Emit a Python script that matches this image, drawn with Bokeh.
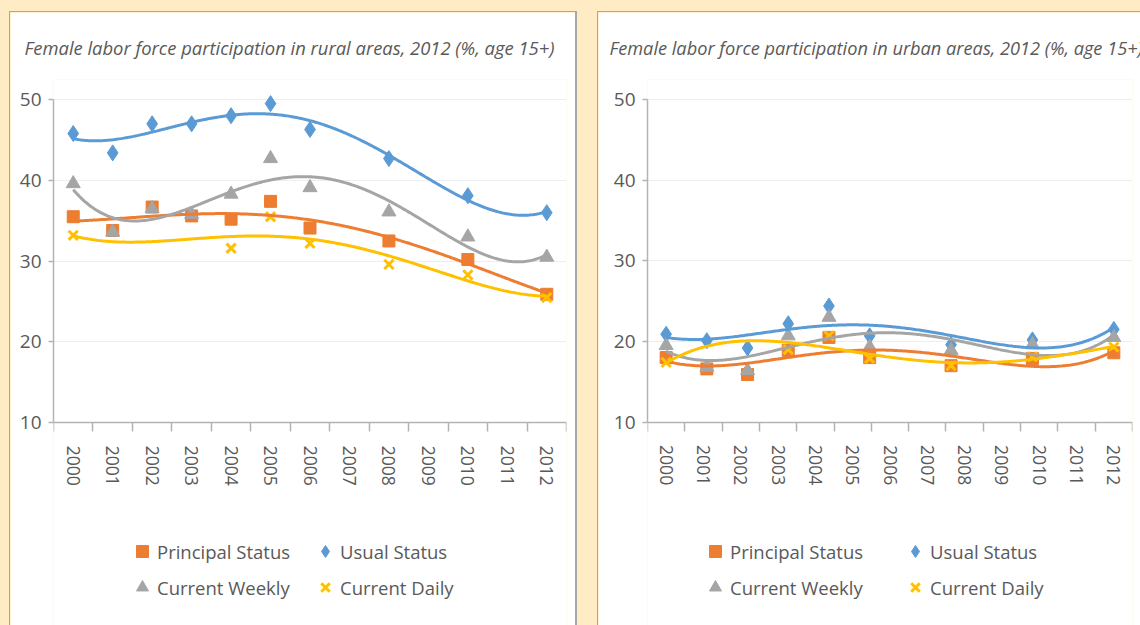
import re
import numpy as np
from bokeh.plotting import figure
from bokeh.layouts import row
from bokeh.models import Range1d, FixedTicker, Legend, LegendItem
from bokeh.embed import file_html
from bokeh.resources import INLINE

nan = float("nan")

# ---------------- data ----------------
years = list(range(2000, 2013))
year_labels = [str(y) for y in years]
series_names = ["Principal Status", "Usual Status", "Current Weekly", "Current Daily"]

rural_title = "Female labor force participation in rural areas, 2012 (%, age 15+)"
rural_x = [2000, 2001, 2002, 2003, 2004, 2005, 2006, 2008, 2010, 2012]
rural_principal = [35.5, 33.8, 36.7, 35.6, 35.2, 37.4, 34.1, 32.5, 30.2, 25.9]
rural_usual = [45.8, 43.4, 47.0, 47.0, 48.0, 49.5, 46.3, 42.7, 38.1, 36.0]
rural_weekly = [39.6, 33.6, 36.5, 35.8, 38.3, 42.7, 39.1, 36.1, 33.0, 30.5]
rural_daily = [33.2, nan, nan, nan, 31.6, 35.5, 32.2, 29.6, 28.3, 25.5]

urban_title = "Female labor force participation in urban areas, 2012 (%, age 15+)"
urban_x = [0, 1, 2, 3, 4, 5, 7, 9, 11]
urban_principal = [18.0, 16.6, 15.9, 18.9, 20.5, 18.0, 17.0, 17.9, 18.6]
urban_usual = [20.9, 20.1, 19.2, 22.2, 24.4, 20.7, 19.6, 20.2, 21.5]
urban_weekly = [19.5, 16.8, 16.4, 20.7, 23.0, 19.3, 18.9, 19.6, 20.5]
urban_daily = [17.4, nan, nan, 19.0, 20.7, 17.9, 17.0, 18.1, 19.3]

y_ticks = [10, 20, 30, 40, 50]

# ---------------- style / geometry ----------------
COLORS = ["#ED7D31", "#5B9BD5", "#A5A5A5", "#FFC000"]
MARKERS = ["square", "diamond", "triangle", "x"]
SIZES = [12, 16, 14, 13]
FONT = "Open Sans"
TXT = "#595959"
AXC = "#B3B3B3"
BG = "#FFEBC4"
BORDER = "#A8A8A8"

TOP = 66            # canvas top -> frame top (title area)
AXIS_H = 322        # pixel height of the 10..50 value span
ABOVE50 = 20        # frame pixels above the 50 line
BELOW10 = 205       # frame pixels below the 10 line (axis labels + legend)
PX = AXIS_H / (y_ticks[-1] - y_ticks[0])
FRAME_H = ABOVE50 + AXIS_H + BELOW10


def trend(x, y, order=4):
    x = np.asarray(x, float)
    y = np.asarray(y, float)
    m = ~np.isnan(y)
    x0 = x[m][0]
    c = np.polyfit(x[m] - x0, y[m], order)
    xs = np.linspace(x[m][0], x[m][-1], 300)
    return xs, np.polyval(c, xs - x0)


def make_panel(title, title_size, xs, series, frame_w, left, right, title_off,
               legend_x, legend_y, label_w, extra=None):
    y_range = Range1d(y_ticks[0] - BELOW10 / PX, y_ticks[-1] + ABOVE50 / PX)
    p = figure(frame_width=frame_w, frame_height=FRAME_H,
               min_border_left=left, min_border_right=right,
               min_border_top=TOP, min_border_bottom=0,
               x_range=Range1d(years[0] - 0.5, years[-1] + 0.5),
               y_range=y_range,
               output_backend="svg", toolbar_location=None, tools="")
    rname = "default"
    if extra is not None:
        p.extra_x_ranges = {"pos": extra}
        rname = "pos"
    p.outline_line_color = None
    p.background_fill_color = "white"
    p.border_fill_color = "white"

    # title
    p.title.text = title
    p.title.text_font = FONT
    p.title.text_font_style = "italic"
    p.title.text_font_size = title_size
    p.title.text_color = TXT
    p.title.align = "left"
    p.title.offset = title_off
    p.title.standoff = 40

    # y axis
    p.yaxis.ticker = FixedTicker(ticks=y_ticks)
    p.yaxis.bounds = (y_ticks[0], y_ticks[-1])
    p.yaxis.axis_line_color = AXC
    p.yaxis.axis_line_width = 1.5
    p.yaxis.major_tick_line_color = AXC
    p.yaxis.major_tick_line_width = 1.5
    p.yaxis.major_tick_in = 0
    p.yaxis.major_tick_out = 5
    p.yaxis.minor_tick_line_color = None
    p.yaxis.major_label_text_font = FONT
    p.yaxis.major_label_text_font_size = "19px"
    p.yaxis.major_label_text_color = TXT
    p.yaxis.major_label_standoff = 7
    p.ygrid.grid_line_color = "#EEEEEE"
    p.ygrid.grid_line_width = 1
    p.xgrid.visible = False

    # x axis at value 10: labels at category centres, ticks at boundaries
    bounds = [y - 0.5 for y in years] + [years[-1] + 0.5]
    p.xaxis.fixed_location = y_ticks[0]
    p.xaxis.ticker = FixedTicker(ticks=years, minor_ticks=bounds)
    p.xaxis.major_label_overrides = {y: s for y, s in zip(years, year_labels)}
    p.xaxis.axis_line_color = AXC
    p.xaxis.axis_line_width = 1.5
    p.xaxis.major_tick_in = 0
    p.xaxis.major_tick_out = 0
    p.xaxis.major_tick_line_color = None
    p.xaxis.minor_tick_in = 0
    p.xaxis.minor_tick_out = 9
    p.xaxis.minor_tick_line_color = AXC
    p.xaxis.minor_tick_line_width = 1.5
    p.xaxis.major_label_orientation = "vertical"
    p.xaxis.major_label_text_font = FONT
    p.xaxis.major_label_text_font_size = "17.5px"
    p.xaxis.major_label_text_color = TXT
    p.xaxis.major_label_standoff = 14

    rends = []
    for vals, col, mk, sz in zip(series, COLORS, MARKERS, SIZES):
        if mk == "x":
            r = p.scatter(xs, vals, marker=mk, size=sz, line_color=col,
                          line_width=3, x_range_name=rname)
        else:
            r = p.scatter(xs, vals, marker=mk, size=sz, fill_color=col,
                          line_color=col, x_range_name=rname)
        rends.append(r)
    for vals, col in zip(series, COLORS):
        tx, ty = trend(xs, vals)
        p.line(tx, ty, line_color=col, line_width=3, x_range_name=rname)

    items = [LegendItem(label=n, renderers=[r]) for n, r in zip(series_names, rends)]
    leg = Legend(items=items, location=(legend_x, legend_y), orientation="horizontal",
                 ncols=2, glyph_width=30, glyph_height=30, label_standoff=0,
                 label_width=label_w, spacing=6, padding=0, margin=0,
                 border_line_color=None, background_fill_alpha=0,
                 label_text_font=FONT, label_text_font_size="18.5px",
                 label_text_color=TXT, label_text_baseline="middle")
    p.add_layout(leg, "center")
    return p


p1 = make_panel(rural_title, "18.4px", rural_x,
                [rural_principal, rural_usual, rural_weekly, rural_daily],
                frame_w=510, left=43, right=12, title_off=-29,
                legend_x=74, legend_y=26, label_w=147)

k_span = urban_x[-1] - urban_x[0]
y_span = years[-1] - years[0]
half = 0.5 * k_span / y_span
urban_range = Range1d(urban_x[0] - half, urban_x[-1] + half)
p2 = make_panel(urban_title, "18.2px", urban_x,
                [urban_principal, urban_usual, urban_weekly, urban_daily],
                frame_w=484, left=49, right=13, title_off=-38,
                legend_x=53, legend_y=24, label_w=164, extra=urban_range)

p1.margin = (11, 0, 0, 9)
p2.margin = (11, 0, 0, 0)
p1.styles = {"border": "1px solid " + BORDER, "border-right": "2px solid " + BORDER}
p2.styles = {"border-left": "1px solid " + BORDER, "border-top": "1px solid " + BORDER}

layout = row(p1, p2, spacing=20)

html = file_html(layout, INLINE, title="Female labor force participation")
css = ("<style>html, body { margin: 0 !important; background: %s !important; "
       "overflow: hidden !important; }</style>" % BG)
html = html.replace("</head>", css + "</head>", 1)
html = re.sub(r"<body[^>]*>",
              '<body style="margin:0;background:%s;overflow:hidden;">' % BG,
              html, count=1)
open("out.html", "w").write(html)
